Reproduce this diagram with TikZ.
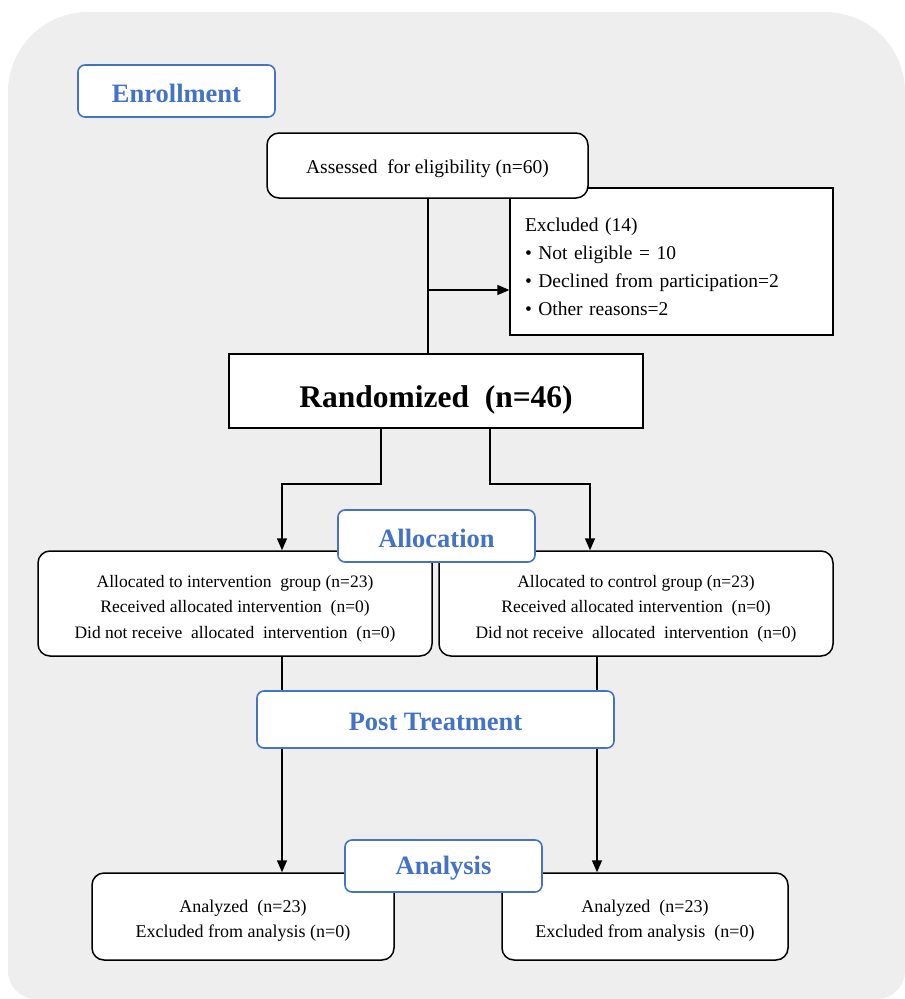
\documentclass[tikz,border=0pt]{standalone}
\usepackage{fontspec}
\setmainfont{Liberation Serif}
\usetikzlibrary{arrows.meta}
\definecolor{bggray}{HTML}{EEEEEE}
\definecolor{stageblue}{HTML}{4472C4}
\newcommand{\lift}[1]{\rule{0pt}{#1}}
\begin{document}
\begin{tikzpicture}[x=1pt,y=-1pt]
    \tikzset{
    stage/.style={draw=stageblue,line width=1.6pt,fill=white,rounded corners=7pt,text=stageblue,font=\fontsize{26.5}{30}\selectfont\bfseries,inner sep=0pt},
    rbox/.style={draw,line width=1.5pt,fill=white,rounded corners=12pt,align=center,font=\fontsize{17.5}{25.5}\selectfont,inner sep=0pt},
    sbox/.style={draw,line width=1.3pt,fill=white,inner sep=0pt},
    c1/.style={line width=1.5pt},
    c2/.style={line width=1.5pt,-{Triangle[length=12pt,width=10pt]}},
    }
    \useasboundingbox (0,0) rectangle (905,999);
    \fill[bggray] (8,500) [rounded corners=80pt] -- (8,12) -- (905,12) -- (905,500)
        [rounded corners=28pt] -- (905,999) -- (8,999) -- cycle;

    \node[stage,minimum width=197pt,minimum height=52pt] (enroll) at (176.5,91) {\lift{23pt}Enrollment};
    \node[sbox,minimum width=323pt,minimum height=147pt,text width=293pt,align=left,font=\fontsize{19.5}{28}\selectfont] (excl) at (671.5,261.5)
        {\lift{24pt}Excluded (14)\\ \textbullet\ Not eligible = 10\\ \textbullet\ Declined from participation=2\\ \textbullet\ Other reasons=2};
    \node[rbox,minimum width=321pt,minimum height=65pt,font=\fontsize{19.5}{22}\selectfont] (assess) at (427.5,165.5) {\lift{20pt}Assessed\ \ for eligibility (n=60)};
    \node[sbox,minimum width=414pt,minimum height=74pt,font=\fontsize{31.5}{34}\selectfont\bfseries] (rand) at (436,391) {\lift{40pt}Randomized\ \ (n=46)};

    \node[rbox,minimum width=394pt,minimum height=105pt] (allocl) at (235,603.5)
        {\lift{22pt}Allocated to intervention\ \ group (n=23)\\ Received allocated intervention\ \ (n=0)\\ Did not receive\ \ allocated\ \ intervention\ \ (n=0)};
    \node[rbox,minimum width=394pt,minimum height=105pt] (allocr) at (636,603.5)
        {\lift{22pt}Allocated to control group (n=23)\\ Received allocated intervention\ \ (n=0)\\ Did not receive\ \ allocated\ \ intervention\ \ (n=0)};
    \node[rbox,minimum width=302pt,minimum height=87pt,font=\fontsize{18}{25}\selectfont] (anal) at (243,916.5)
        {\lift{20pt}Analyzed\ \ (n=23)\\ Excluded from analysis (n=0)};
    \node[rbox,minimum width=286pt,minimum height=87pt,font=\fontsize{18}{25}\selectfont] (anar) at (645,916.5)
        {\lift{20pt}Analyzed\ \ (n=23)\\ Excluded from analysis\ \ (n=0)};

    \coordinate (split) at (428,290);
    \coordinate (r1) at (381,428);
    \coordinate (r2) at (490,428);
    \coordinate (k1) at (282,484);
    \coordinate (k2) at (590,484);

    \draw[c1] (assess.south -| split) -- (rand.north -| split);
    \draw[c2] (split) -- (excl.west |- split);
    \draw[c2] (r1) |- (k1) -- (allocl.north -| k1);
    \draw[c2] (r2) |- (k2) -- (allocr.north -| k2);
    \draw[c2] (allocl.south -| k1) -- (anal.north -| k1);
    \draw[c2] (allocr.south -| 597,0) -- (anar.north -| 597,0);

    \node[stage,minimum width=197pt,minimum height=52pt] (allocation) at (436.5,536) {\lift{23pt}Allocation};
    \node[stage,minimum width=357pt,minimum height=57pt] (post) at (435.5,719.5) {\lift{23pt}Post Treatment};
    \node[stage,minimum width=197pt,minimum height=52pt] (analysis) at (443.5,866) {\lift{23pt}Analysis};
\end{tikzpicture}
\end{document}
